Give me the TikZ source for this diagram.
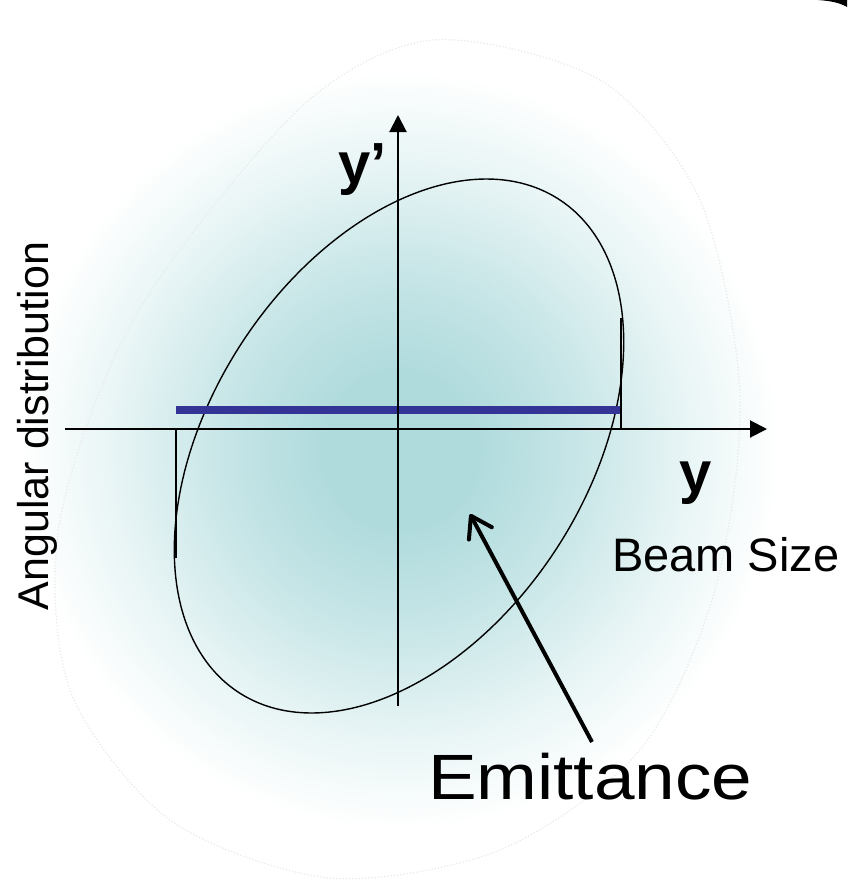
\documentclass[tikz,border=0pt]{standalone}
\usepackage{fontspec}
\setmainfont{Liberation Sans}
\usetikzlibrary{arrows.meta}
\definecolor{glowc}{RGB}{176,219,221}
\definecolor{beamblue}{RGB}{52,52,150}
\definecolor{faintc}{RGB}{230,234,234}
\pgfdeclareradialshading{glow}{\pgfpoint{0bp}{0bp}}{color(0bp)=(glowc); color(5bp)=(glowc); color(11bp)=(glowc!72!white); color(18bp)=(glowc!30!white); color(24bp)=(white); color(50bp)=(white)}
\begin{document}
\begin{tikzpicture}[x=1pt,y=-1pt,
  axis/.style={line width=2pt,-{Triangle[length=17pt,width=17pt]}},
  tick/.style={line width=2.4pt},
  lbl/.style={inner sep=0pt,outer sep=0pt,text=black},
  pointer/.style={line width=4pt,-{Straight Barb[length=20pt,width=26pt,round]}}]
\useasboundingbox (0,0) rectangle (847,886);
\fill[white] (0,0) rectangle (847,886);
% soft glow
\shade[shading=glow] (400,450) circle (395pt);
% faint blob outline
\draw[faintc,dotted,line width=1.2pt] plot[smooth cycle] coordinates {(433,40) (600,80) (700,200) (740,395) (715,590) (640,750) (500,850) (330,878) (170,820) (70,690) (60,520) (137,313) (300,108)};
% emittance ellipse
\draw[line width=1.4pt] plot[domain=0:357,samples=120,smooth cycle] ({399 + 294*cos(57)*cos(\x) - 188*sin(57)*sin(\x)}, {446 - (294*sin(57)*cos(\x) + 188*cos(57)*sin(\x))});
% coordinates
\coordinate (hl) at (65,429);
\coordinate (hr) at (767,429);
\coordinate (vb) at (398,706);
\coordinate (vt) at (398,115);
\coordinate (lt) at (176,429);
\coordinate (lb) at (176,558);
\coordinate (rt) at (621,318);
\coordinate (rb) at (621,429);
\coordinate (bl) at (176,410);
\coordinate (br) at (621,410);
% beam size bar
\draw[beamblue,line width=8pt] (bl) -- (br);
% extent lines
\draw[tick] (lt) -- (lb);
\draw[tick] (rt) -- (rb);
% axes
\draw[axis] (hl) -- (hr);
\draw[axis] (vb) -- (vt);
% labels
\node[lbl,anchor=base west,font=\fontsize{58}{60}\selectfont\bfseries] (yp) at (338,183) {y’};
\node[lbl,anchor=base west,font=\fontsize{58}{60}\selectfont\bfseries] (yl) at (679,492) {y};
\node[lbl,anchor=base west,font=\fontsize{47}{50}\selectfont] (bs) at (612,571) {Beam Size};
\node[lbl,anchor=base west,rotate=90,font=\fontsize{43}{46}\selectfont] (ad) at (48,610) {Angular distribution};
\node[lbl,anchor=base west,font=\fontsize{64}{66}\selectfont] (em) at (428,799) {\scalebox{1.14}[1]{Emittance}};
\coordinate (emtail) at (592,742);
\coordinate (emtip) at (470,514);
\draw[pointer] (emtail) -- (emtip);
% corner shape
\fill[black] (818,0) .. controls (832,1) and (840,3) .. (847,7) -- (847,0) -- cycle;
\end{tikzpicture}
\end{document}
